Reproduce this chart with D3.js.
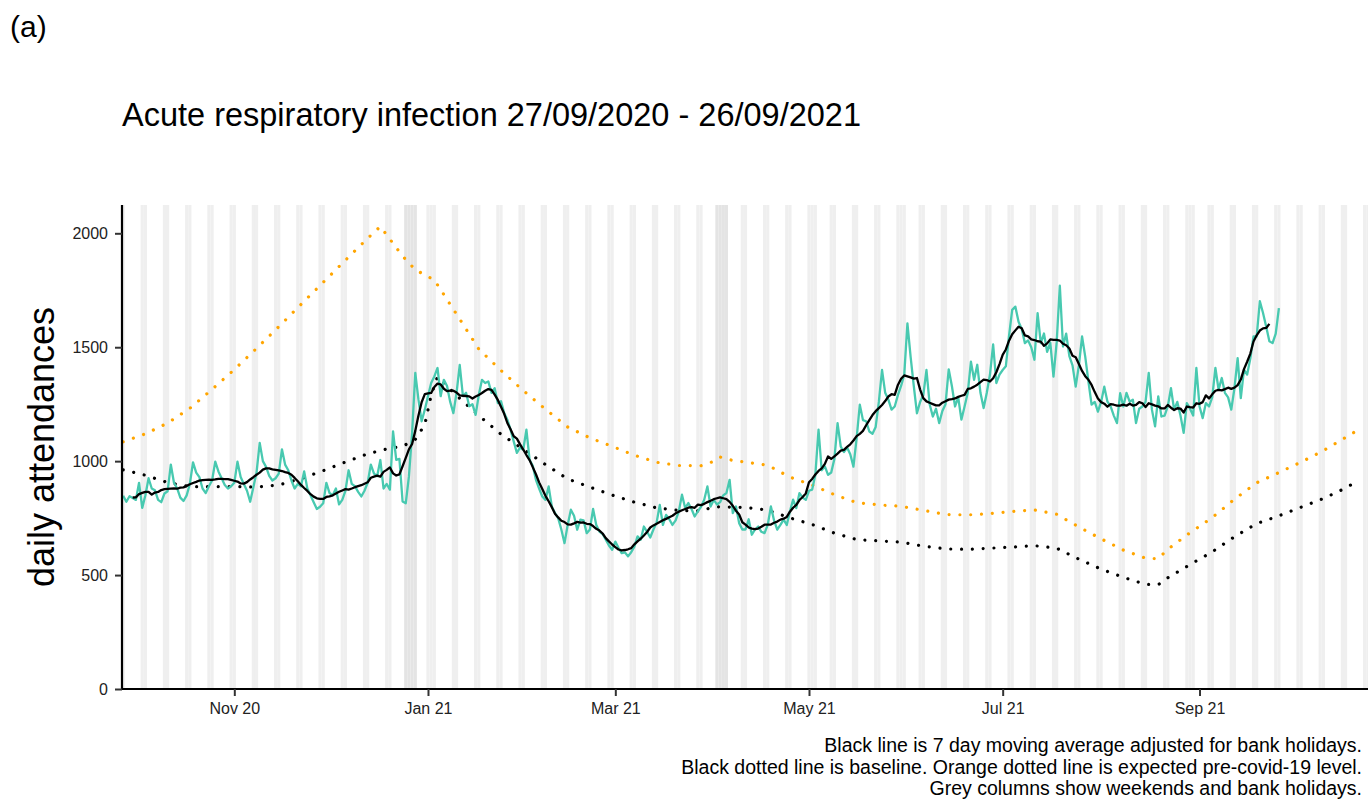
<!DOCTYPE html>
<html>
<head>
<meta charset="utf-8">
<script src="https://cdn.jsdelivr.net/npm/d3@7"></script>
<style>
  html, body { margin: 0; padding: 0; background: #fff; }
  svg { display: block; }
  text { font-family: "Liberation Sans", Arial, "DejaVu Sans", sans-serif; }
</style>
</head>
<body>
<svg id="chart" width="1368" height="799"></svg>
<script>
// ---------------- DATA ----------------
const dataStart = "2020-09-27"; // first day of daily series (Sunday)

// Daily acute respiratory infection attendances, 27/09/2020 - 26/09/2021 (rows are Sun..Sat)
const attendances = [
  848, 822, 846, 838, 830, 905, 795,
  850, 925, 880, 872, 830, 820, 858,
  868, 985, 905, 880, 840, 825, 850,
  900, 995, 950, 930, 880, 860, 890,
  915, 998, 955, 925, 895, 880, 890,
  905, 998, 930, 900, 870, 822, 885,
  950, 1080, 1000, 975, 935, 915, 925,
  945, 1052, 985, 960, 915, 880, 900,
  890, 955, 880, 850, 820, 790, 800,
  815, 905, 860, 850, 880, 810, 830,
  870, 960, 900, 890, 865, 845, 870,
  905, 985, 945, 935, 1005, 880, 900,
  875, 1131, 1006, 1010, 823, 815, 933,
  1124, 1387, 1270, 1175, 1226, 1285, 1343,
  1372, 1409, 1285, 1357, 1330, 1260, 1211,
  1300, 1422, 1285, 1300, 1241, 1250, 1203,
  1290, 1357, 1343, 1350, 1300, 1320, 1255,
  1263, 1211, 1182, 1138, 1087, 1036, 1060,
  1050, 1138, 1006, 980, 918, 880, 845,
  830, 889, 801, 772, 750, 700, 640,
  720, 787, 760, 699, 743, 740, 684,
  700, 790, 720, 691, 680, 655, 630,
  611, 647, 620, 596, 600, 582, 600,
  625, 670, 655, 713, 690, 665, 700,
  730, 808, 720, 764, 745, 720, 740,
  780, 853, 794, 816, 790, 757, 780,
  800, 831, 889, 801, 830, 810, 820,
  850, 860, 918, 772, 801, 728, 700,
  700, 745, 677, 700, 713, 690, 684,
  720, 801, 740, 699, 720, 743, 720,
  780, 831, 794, 860, 840, 830, 870,
  875, 940, 1138, 960, 977, 940, 950,
  1010, 1167, 1064, 1040, 1060, 1030, 976,
  1100, 1248, 1180, 1175, 1130, 1120, 1150,
  1260, 1400, 1300, 1270, 1226, 1240, 1290,
  1330, 1380, 1605, 1459, 1330, 1210, 1260,
  1290, 1400, 1250, 1196, 1230, 1167, 1220,
  1250, 1403, 1330, 1240, 1280, 1182, 1240,
  1300, 1437, 1357, 1423, 1300, 1233, 1300,
  1380, 1512, 1343, 1380, 1400, 1416, 1550,
  1664, 1678, 1612, 1580, 1518, 1530, 1500,
  1445, 1650, 1518, 1560, 1480, 1520, 1371,
  1520, 1770, 1503, 1560, 1461, 1420, 1327,
  1420, 1547, 1459, 1350, 1248, 1260, 1217,
  1260, 1327, 1261, 1240, 1200, 1167, 1298,
  1240, 1300, 1261, 1270, 1167, 1230, 1240,
  1260, 1387, 1226, 1153, 1284, 1196, 1200,
  1240, 1320, 1226, 1260, 1200, 1124, 1255,
  1230, 1200, 1409, 1240, 1189, 1255, 1240,
  1280, 1409, 1314, 1365, 1300, 1280, 1226,
  1320, 1452, 1277, 1402, 1380, 1450, 1547,
  1547, 1702, 1650, 1590, 1526, 1518, 1560,
  1672
];

// Orange dotted line: expected pre-covid-19 level
const expectedDates = [
  "2020-09-27","2020-10-04","2020-10-11","2020-10-18","2020-10-25","2020-11-01","2020-11-08",
  "2020-11-15","2020-11-22","2020-11-29","2020-12-06","2020-12-13","2020-12-17","2020-12-24",
  "2020-12-28","2021-01-03","2021-01-10","2021-01-17","2021-01-24","2021-01-31","2021-02-07",
  "2021-02-14","2021-02-21","2021-02-28","2021-03-07","2021-03-14","2021-03-21","2021-03-28",
  "2021-04-01","2021-04-03","2021-04-07","2021-04-11","2021-04-18","2021-04-25","2021-05-02",
  "2021-05-09","2021-05-16","2021-05-23","2021-05-30","2021-06-06","2021-06-13","2021-06-20",
  "2021-06-27","2021-07-04","2021-07-11","2021-07-18","2021-07-25","2021-08-01","2021-08-08",
  "2021-08-15","2021-08-19","2021-08-22","2021-08-29","2021-09-05","2021-09-12","2021-09-19",
  "2021-09-26","2021-10-03","2021-10-10","2021-10-17","2021-10-21"
];
const expectedValues = [
  1085, 1120, 1167, 1232, 1315, 1402, 1495,
  1590, 1688, 1785, 1882, 1978, 2030, 1900,
  1840, 1795, 1645, 1492, 1398, 1310, 1228,
  1150, 1102, 1065, 1026, 995, 981, 980,
  999, 1018, 1003, 996, 982, 930, 895,
  853, 818, 808, 802, 784, 766, 764,
  770, 779, 786, 767, 711, 659, 610,
  574, 572, 613, 686, 752, 833, 905,
  950, 996, 1046, 1104, 1138
];

// Black dotted line: baseline
const baselineDates = [
  "2020-09-27","2020-10-04","2020-10-11","2020-10-18","2020-10-25","2020-11-01","2020-11-08",
  "2020-11-15","2020-11-22","2020-11-29","2020-12-06","2020-12-13","2020-12-20","2020-12-24",
  "2020-12-28","2020-12-31","2021-01-02","2021-01-04","2021-01-10","2021-01-17","2021-01-24",
  "2021-01-31","2021-02-07","2021-02-14","2021-02-21","2021-02-28","2021-03-07","2021-03-14",
  "2021-03-21","2021-03-28","2021-04-01","2021-04-11","2021-04-18","2021-04-25","2021-05-02",
  "2021-05-09","2021-05-16","2021-05-23","2021-05-30","2021-06-06","2021-06-13","2021-06-20",
  "2021-06-27","2021-07-04","2021-07-11","2021-07-18","2021-07-25","2021-08-01","2021-08-08",
  "2021-08-15","2021-08-19","2021-08-22","2021-08-29","2021-09-05","2021-09-12","2021-09-19",
  "2021-09-26","2021-10-03","2021-10-10","2021-10-17","2021-10-21"
];
const baselineValues = [
  962, 938, 906, 888, 888, 889, 886,
  895, 923, 958, 996, 1032, 1057, 1065,
  1095, 1160, 1290, 1370, 1288, 1200, 1118,
  1052, 985, 922, 886, 851, 820, 795,
  784, 781, 800, 797, 785, 751, 722,
  684, 656, 650, 645, 627, 615, 613,
  618, 623, 629, 618, 570, 526, 490,
  459, 458, 488, 546, 602, 668, 726,
  760, 798, 836, 882, 915
];

// Grey columns
const bankHolidays = ["2020-12-25","2020-12-28","2021-01-01","2021-04-02","2021-04-05","2021-05-03","2021-05-31","2021-08-30"];
const darkerColumnDays = ["2020-12-25","2020-12-26","2020-12-27","2020-12-28","2021-04-02","2021-04-03","2021-04-04","2021-04-05"];

// Axis
const xTickDates = ["2020-11-01","2021-01-01","2021-03-01","2021-05-01","2021-07-01","2021-09-01"];
const yTickValues = [0, 500, 1000, 1500, 2000];

const titleText = "Acute respiratory infection 27/09/2020 - 26/09/2021";
const panelLabel = "(a)";
const yAxisTitle = "daily attendances";
const captionLines = [
  "Black line is 7 day moving average adjusted for bank holidays.",
  "Black dotted line is baseline. Orange dotted line is expected pre-covid-19 level.",
  "Grey columns show weekends and bank holidays."
];

// ---------------- DRAW ----------------
const parseDay = s => new Date(s + "T00:00:00Z");
const DAY_MS = 86400000;

const svg = d3.select("#chart");
const pLeft = 122, pRight = 1368, pTop = 205, pBottom = 689;

const x = d3.scaleUtc()
  .domain([new Date(Date.UTC(2020, 8, 26, 15, 7)), new Date(Date.UTC(2021, 9, 24, 1, 26))])
  .range([pLeft, pRight]);
const y = d3.scaleLinear().domain([0, 2000]).range([pBottom, 233.3]);

svg.append("defs").append("clipPath").attr("id", "clip")
  .append("rect").attr("x", pLeft).attr("y", pTop).attr("width", pRight - pLeft).attr("height", pBottom - pTop);

const plot = svg.append("g").attr("clip-path", "url(#clip)");

// grey columns
const colDays = d3.utcDays(new Date(Date.UTC(2020, 8, 25)), new Date(Date.UTC(2021, 9, 26)));
const bhSet = new Set(bankHolidays);
const darkSet = new Set(darkerColumnDays);
const fmtISO = d3.utcFormat("%Y-%m-%d");
const greyDays = colDays.filter(d => {
  const wd = d.getUTCDay();
  return wd === 0 || wd === 6 || bhSet.has(fmtISO(d));
});
plot.append("g").selectAll("rect").data(greyDays).join("rect")
  .attr("x", d => x(new Date(+d - DAY_MS / 2)))
  .attr("width", d => x(new Date(+d + DAY_MS / 2)) - x(new Date(+d - DAY_MS / 2)))
  .attr("y", pTop).attr("height", pBottom - pTop)
  .attr("fill", d => darkSet.has(fmtISO(d)) ? "#e4e4e4" : "#efefef");

// daily series
const startDay = parseDay(dataStart);
const daily = attendances.map((v, i) => ({ date: new Date(+startDay + i * DAY_MS), value: v }));

// centred 7 day moving average
const movingAvg = [];
for (let i = 3; i < daily.length - 3; i++) {
  movingAvg.push({ date: daily[i].date, value: d3.mean(daily.slice(i - 3, i + 4), d => d.value) });
}

const lineGen = d3.line().x(d => x(d.date)).y(d => y(d.value));

const expected = expectedDates.map((s, i) => ({ date: parseDay(s), value: expectedValues[i] }));
const baseline = baselineDates.map((s, i) => ({ date: parseDay(s), value: baselineValues[i] }));

plot.append("path").datum(expected).attr("d", lineGen)
  .attr("fill", "none").attr("stroke", "#FFA500").attr("stroke-width", 3.2)
  .attr("stroke-linecap", "round").attr("stroke-dasharray", "0.01,10.8");

plot.append("path").datum(baseline).attr("d", lineGen)
  .attr("fill", "none").attr("stroke", "#000").attr("stroke-width", 3.2)
  .attr("stroke-linecap", "round").attr("stroke-dasharray", "0.01,10.8");

plot.append("path").datum(daily).attr("d", lineGen)
  .attr("fill", "none").attr("stroke", "#48C9B0").attr("stroke-width", 2.3)
  .attr("stroke-linejoin", "round");

plot.append("path").datum(movingAvg).attr("d", lineGen)
  .attr("fill", "none").attr("stroke", "#000").attr("stroke-width", 2.3)
  .attr("stroke-linejoin", "round");

// axes
const xAxis = d3.axisBottom(x)
  .tickValues(xTickDates.map(parseDay))
  .tickFormat(d3.utcFormat("%b %y"))
  .tickSize(7).tickPadding(7);
const gx = svg.append("g").attr("transform", `translate(0,${pBottom})`).call(xAxis);
gx.select(".domain").attr("stroke", "#000").attr("stroke-width", 2.2)
  .attr("d", `M${pLeft - 1},0H${pRight}`);
gx.selectAll(".tick line").attr("stroke", "#333").attr("stroke-width", 2);
gx.selectAll(".tick text").attr("fill", "#222").style("font-size", "16px")
  .style("font-family", '"Liberation Sans", Arial, sans-serif');

const yAxis = d3.axisLeft(y).tickValues(yTickValues).tickFormat(d3.format("d"))
  .tickSize(7).tickPadding(7);
const gy = svg.append("g").attr("transform", `translate(${pLeft},0)`).call(yAxis);
gy.select(".domain").attr("stroke", "#000").attr("stroke-width", 2.2)
  .attr("d", `M0,${pTop}V${pBottom + 1}`);
gy.selectAll(".tick line").attr("stroke", "#333").attr("stroke-width", 2);
gy.selectAll(".tick text").attr("fill", "#222").style("font-size", "16px")
  .style("font-family", '"Liberation Sans", Arial, sans-serif');

// texts
svg.append("text").attr("x", 10).attr("y", 37).text(panelLabel)
  .style("font-size", "30px").attr("fill", "#000");

svg.append("text").attr("x", pLeft).attr("y", 126).text(titleText)
  .style("font-size", "32.5px").attr("fill", "#000");

svg.append("text")
  .attr("transform", `translate(54,${(pTop + pBottom) / 2}) rotate(-90)`)
  .attr("text-anchor", "middle").text(yAxisTitle)
  .style("font-size", "36px").attr("fill", "#000");

svg.append("g").selectAll("text").data(captionLines).join("text")
  .attr("x", 1362).attr("y", (d, i) => 752 + i * 21.5)
  .attr("text-anchor", "end").text(d => d)
  .style("font-size", "19.5px").attr("fill", "#000");
</script>
</body>
</html>
